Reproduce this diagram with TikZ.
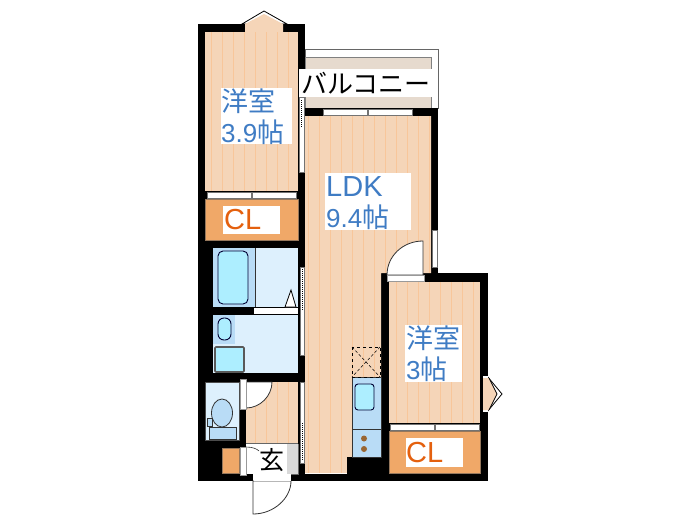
\documentclass[tikz,border=0pt]{standalone}
\usepackage{fontspec}
\setmainfont{Liberation Sans}
\newfontfamily\jpfont{Noto Sans CJK JP}
\definecolor{floortan}{HTML}{F5D5B8}
\definecolor{floorline}{HTML}{F8C69A}
\definecolor{closet}{HTML}{F0A868}
\definecolor{balc}{HTML}{E6DACE}
\definecolor{wetpale}{HTML}{DDF0FD}
\definecolor{wetmid}{HTML}{B9DCF6}
\definecolor{tubcol}{HTML}{ADEEFF}
\definecolor{roomtext}{HTML}{3F7CC4}
\definecolor{cltext}{HTML}{E4600E}
\newcommand{\bigtext}{\fontsize{26}{31}\selectfont}
\newcommand{\widetext}{\fontsize{29}{31}\selectfont}
\newcommand{\jptext}{\jpfont\fontsize{27}{31}\selectfont}
\usetikzlibrary{positioning}

\begin{document}
\begin{tikzpicture}[x=1pt, y=-1pt,
	wall/.style={fill=black, draw=none},
	floor/.style={fill=floortan, draw=none},
	closetbox/.style={fill=closet, draw=floorline!60!black, line width=0.3pt},
	strip/.style={fill=white, draw=black!55, line width=1pt},
	fixture/.style={draw=black!80!blue, line width=0.9pt, fill=tubcol},
	ware/.style={fill=wetmid, draw=black!80, line width=0.8pt},
	roomlabel/.style={inner sep=0pt, align=left, anchor=west, text=roomtext, font=\bigtext},
	cllabel/.style={inner sep=0pt, anchor=west, text=cltext, font=\widetext},
	swing/.style={fill=white, draw=black!80, line width=0.8pt},
	board/.style={floorline, line width=1pt},
]
\useasboundingbox (0,0) rectangle (700,525);
% balcony
\draw [draw=black!60, line width=1pt, fill=white] (305,49) rectangle (438,108);
\draw [draw=black!50, line width=0.8pt, fill=balc] (305,57) rectangle (431,108);
%
% bay windows
\draw [fill=white, line width=0.8pt] (242,24) -- (264,11) -- (287,24) -- cycle;
\draw [fill=white, line width=0.8pt] (487,376) -- (502,394) -- (487,412) -- cycle;
%
% walls
\fill [wall] (198,24) rectangle (305,248);
\fill [wall] (198,248) rectangle (213,382);
\fill [wall] (198,382) rectangle (205,481);
\fill [wall] (213,307) rectangle (305,315);
\fill [wall] (213,373) rectangle (305,382);
\fill [wall] (298,248) rectangle (305,481);
\fill [wall] (205,440) rectangle (240,481);
\fill [wall] (239,382) rectangle (246,450);
\fill [wall] (198,474) rectangle (253,481);
\fill [wall] (291,474) rectangle (488,481);
\fill [wall] (305,108) rectangle (438,116);
\fill [wall] (431,116) rectangle (438,273);
\fill [wall] (381,273) rectangle (488,481);
%
% floors with their boards
\fill [floor] (245,32) -- (245,24) -- (264,14) -- (283,24) -- (283,32) -- cycle;
\fill [floor] (205,32) rectangle (298,191);
\fill [floor] (305,116) -- (431,116) -- (431,273) -- (381,273) -- (381,473) -- (305,473) -- cycle;
\fill [floor] (389,282) rectangle (480,423);
\fill [floor] (246,382) rectangle (298,443);
\fill [white] (483,376) rectangle (488,412);
\fill [floor] (483,378) -- (489,378) -- (497,394) -- (489,410) -- (483,410) -- cycle;
\draw [black, line width=0.8pt] (489,378) -- (497,394) -- (489,410);
\foreach \sx in {211,222,...,288}
	\draw [board] (\sx,32) -- (\sx,191);
\foreach \sx in {308,319,...,429}
	\draw [board] (\sx,116) -- (\sx,273);
\foreach \sx in {308,319,...,380}
	\draw [board] (\sx,273) -- (\sx,473);
\foreach \sx in {396,407,...,473}
	\draw [board] (\sx,282) -- (\sx,423);
\foreach \sx in {255,266,...,296}
	\draw [board] (\sx,382) -- (\sx,443);
\fill [wall] (347,457) rectangle (389,474);
%
% closets
\fill [closetbox] (205,199) rectangle (298,240);
\fill [closetbox] (389,431) rectangle (480,473);
\fill [closetbox] (222,448) rectangle (239,473);
%
% sliding doors and windows
\draw [strip] (207,192) rectangle (251,198);
\draw [strip] (252,192) rectangle (296,198);
\draw [strip] (390,424) rectangle (434,430);
\draw [strip] (435,424) rectangle (479,430);
\draw [strip] (323,109) rectangle (367,115);
\draw [strip] (368,109) rectangle (412,115);
\draw [strip] (299.5,97) rectangle (304,172);
\draw [strip] (300,267) rectangle (304.5,355);
\draw [strip] (300,382) rectangle (304.5,463);
\draw [strip] (432,230) rectangle (437,267);
\draw [black, densely dotted, line width=1pt] (301,100) -- (301,128);
\draw [black, densely dotted, line width=1pt] (302,269) -- (302,310);
\draw [black, densely dotted, line width=1pt] (302,423) -- (302,461);
%
% bath and washroom
\fill [wetpale] (213,248) rectangle (298,307);
\fill [wetmid] (213,248) rectangle (255,307);
\draw [draw=black!80, line width=0.6pt] (255,248) -- (255,307);
\draw [fixture, rounded corners=5pt] (218,251) rectangle (248,304);
\fill [white] (254,308) rectangle (298,314);
\draw [fill=white, line width=0.8pt] (285,307) -- (291,290) -- (296,307) -- cycle;
\fill [wetpale] (213,315) rectangle (298,373);
\fill [wetmid] (213,315) rectangle (235,344);
\draw [fixture, rounded corners=6pt] (218,318) rectangle (231,340);
\draw [fixture, draw=black!65, line width=1.6pt, rounded corners=1pt] (215,347) rectangle (244,372);
%
% toilet
\fill [wetpale] (205,382) rectangle (239,440);
\draw [draw=black!70, line width=0.5pt] (205,382) rectangle (239,440);
\draw [ware] (222,413) ellipse (10.5 and 14);
\draw [ware] (209,427) rectangle (236,439);
\draw [ware, line width=0.6pt] (207,418) rectangle (212,426);
%
% entrance
\fill [white] (246,444) rectangle (298,474);
\fill [black!15] (287,444) rectangle (298,474);
\draw [draw=black!60, line width=0.7pt] (246,443.5) -- (298,443.5);
\draw [draw=black!60, line width=0.7pt] (298,444) -- (298,474) -- (254,474);
\draw [draw=black!80, line width=0.6pt] (254,475) -- (272,475);
\draw [draw=black!80, line width=0.6pt] (246,447) .. controls (253,447) and (257,449) .. (259,451);
\draw [strip, draw=black!40] (240,447) rectangle (246,475);
%
% doors
\draw [swing] (246,408) .. controls (260,408) and (272,396) .. (272,382) -- (246,382) -- cycle;
\draw [strip, draw=black!40] (240,379) rectangle (246,409);
\draw [swing] (253,481) -- (253,514) .. controls (274,514) and (291,498) .. (291,481) -- cycle;
\fill [white] (254,474) rectangle (291,481);
\draw [swing] (423,275) -- (423,241) .. controls (403,241) and (387,256) .. (387,275) -- cycle;
\draw [strip, draw=black!40] (387,275) rectangle (424,281);
%
% kitchen
\draw [ware] (352,377) rectangle (381,457);
\draw [draw=black!80, line width=0.6pt] (352,429) -- (381,429);
\draw [fixture, rounded corners=3pt] (355,384) rectangle (374,410);
\fill [brown!80!black] (364,438.5) circle (3);
\fill [brown!80!black] (364,449) circle (3);
\draw [dashed, line width=0.9pt] (352,347) rectangle (380,377);
\draw [densely dashed, line width=0.5pt] (352,347) -- (380,377);
\draw [densely dashed, line width=0.5pt] (380,347) -- (352,377);
%
% labels
\fill [white] (299,69) rectangle (438,97);
\fill [white] (221,88) rectangle (292,144);
\fill [white] (325,173) rectangle (411,230);
\fill [white] (405,325) rectangle (462,382);
\fill [white] (223,206) rectangle (280,234);
\fill [white] (406,438) rectangle (463,467);
\node [font={\jpfont\fontsize{26}{26}\selectfont}, inner sep=0pt] (balcony) at (366,83) {バルコニー};
\node [roomlabel] (west) at (221,117) {{\jptext 洋室}\\3.9{\jptext 帖}};
\node [roomlabel] (ldk) at (326,203) {{\widetext LDK}\\9.4{\jptext 帖}};
\node [roomlabel] (east) at (406,354) {{\jptext 洋室}\\3{\jptext 帖}};
\node [cllabel] (clwest) at (224,220) {CL};
\node [cllabel] (cleast) at (406,453) {CL};
\node [font={\jpfont\fontsize{25}{25}\selectfont}, inner sep=0pt] (entry) at (272,460) {玄};
\end{tikzpicture}
\end{document}
